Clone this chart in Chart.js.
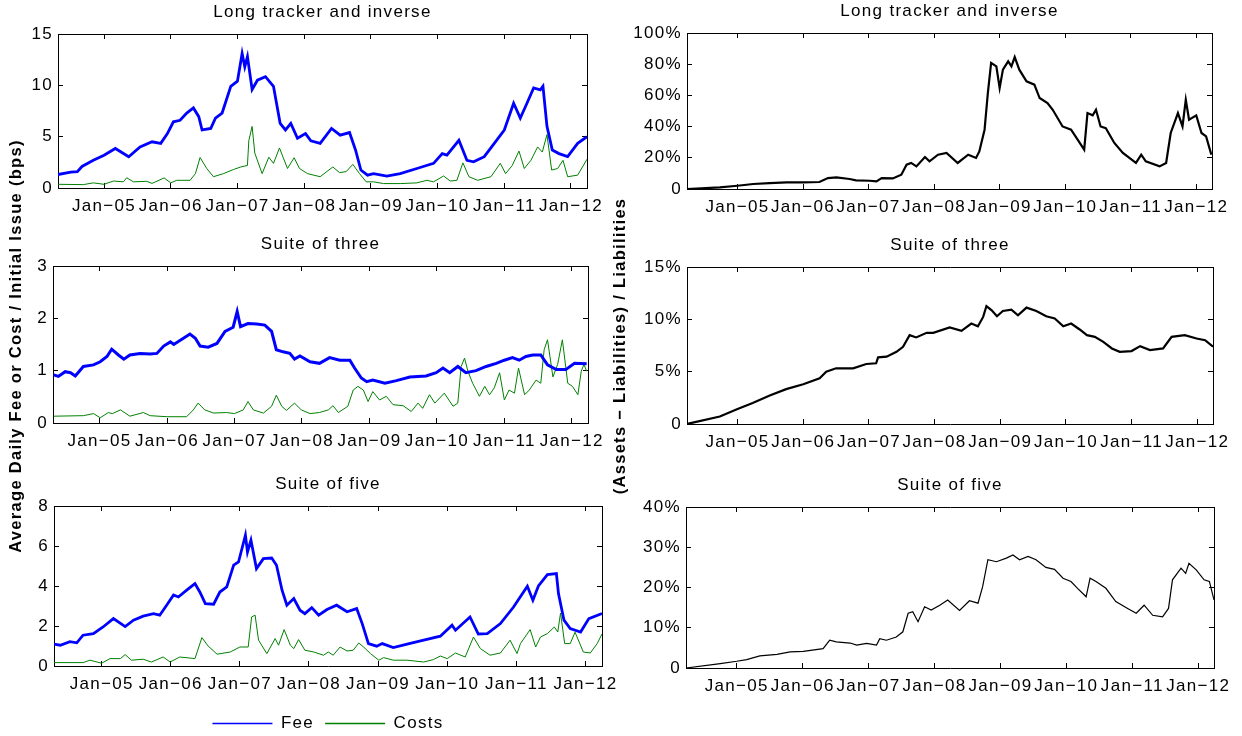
<!DOCTYPE html>
<html>
<head>
<meta charset="utf-8">
<title>Fees, costs and surplus</title>
<script src="https://cdn.jsdelivr.net/npm/chart.js@4.4.1/dist/chart.umd.min.js"></script>
<style>
  html, body { margin: 0; padding: 0; background: #ffffff; }
  #fig { position: relative; width: 1242px; height: 736px; overflow: hidden; background: #ffffff; }
  #fig canvas { position: absolute; left: 0; top: 0; width: 1242px; height: 736px; }
</style>
</head>
<body>
<div id="fig">
  <canvas id="longFeePanel" width="1242" height="736"></canvas>
  <canvas id="threeFeePanel" width="1242" height="736"></canvas>
  <canvas id="fiveFeePanel" width="1242" height="736"></canvas>
  <canvas id="longSurplusPanel" width="1242" height="736"></canvas>
  <canvas id="threeSurplusPanel" width="1242" height="736"></canvas>
  <canvas id="fiveSurplusPanel" width="1242" height="736"></canvas>
</div>
<script>
// ---- x axis: decimal years, labelled at each January ----
const xTickYears  = [2005, 2006, 2007, 2008, 2009, 2010, 2011, 2012];
const xTickLabels = ['Jan\u221205', 'Jan\u221206', 'Jan\u221207', 'Jan\u221208', 'Jan\u221209', 'Jan\u221210', 'Jan\u221211', 'Jan\u221212'];

// ---- y axis ticks ----
const longFeeTicks  = [0, 5, 10, 15];
const threeFeeTicks = [0, 1, 2, 3];
const fiveFeeTicks  = [0, 2, 4, 6, 8];
const longSurplusTicks  = [0, 20, 40, 60, 80, 100];
const longSurplusLabels = ['0', '20%', '40%', '60%', '80%', '100%'];
const threeSurplusTicks  = [0, 5, 10, 15];
const threeSurplusLabels = ['0', '5%', '10%', '15%'];
const fiveSurplusTicks  = [0, 10, 20, 30, 40];
const fiveSurplusLabels = ['0', '10%', '20%', '30%', '40%'];

// ---- Long tracker and inverse: average daily fee / cost (bps), [decimal year, value] ----
const longFee = [[2004.31,1.31],[2004.5,1.55],[2004.6,1.6],[2004.67,2.1],[2004.84,2.7],[2005.0,3.2],[2005.17,3.85],[2005.37,3.05],[2005.54,4.0],[2005.72,4.5],[2005.85,4.35],[2005.95,5.3],[2006.04,6.45],[2006.14,6.6],[2006.24,7.3],[2006.34,7.8],[2006.42,6.95],[2006.47,5.65],[2006.6,5.8],[2006.67,6.8],[2006.77,7.3],[2006.9,9.9],[2007.0,10.4],[2007.07,13.1],[2007.11,11.8],[2007.15,12.8],[2007.22,9.6],[2007.3,10.5],[2007.42,10.85],[2007.54,9.9],[2007.64,6.3],[2007.72,5.65],[2007.8,6.3],[2007.9,4.85],[2008.02,5.3],[2008.1,4.6],[2008.24,4.35],[2008.41,5.8],[2008.54,5.15],[2008.68,5.4],[2008.77,3.7],[2008.85,1.75],[2008.95,1.25],[2009.04,1.4],[2009.24,1.15],[2009.44,1.4],[2009.69,1.9],[2009.94,2.4],[2010.07,3.35],[2010.14,3.2],[2010.32,4.65],[2010.44,2.7],[2010.54,2.55],[2010.7,3.05],[2010.85,4.35],[2011.0,5.65],[2011.14,8.25],[2011.24,6.8],[2011.34,8.25],[2011.44,9.75],[2011.54,9.55],[2011.58,9.9],[2011.64,6.0],[2011.72,3.7],[2011.82,3.35],[2011.95,3.05],[2012.1,4.35],[2012.24,5.0]];
const longCost = [[2004.31,0.36],[2004.69,0.33],[2004.84,0.5],[2005.0,0.36],[2005.14,0.68],[2005.29,0.6],[2005.34,1.0],[2005.44,0.6],[2005.64,0.65],[2005.72,0.45],[2005.9,0.98],[2006.0,0.5],[2006.09,0.75],[2006.29,0.75],[2006.37,1.4],[2006.44,2.97],[2006.54,1.9],[2006.64,1.1],[2006.79,1.4],[2006.94,1.8],[2007.05,2.05],[2007.15,2.2],[2007.17,4.6],[2007.22,6.0],[2007.26,3.4],[2007.37,1.4],[2007.47,3.0],[2007.54,2.4],[2007.63,3.9],[2007.75,1.9],[2007.85,2.95],[2007.93,1.9],[2008.05,1.4],[2008.24,1.1],[2008.43,2.05],[2008.53,1.5],[2008.63,1.6],[2008.73,2.3],[2008.83,1.4],[2008.93,0.6],[2009.04,0.6],[2009.19,0.43],[2009.44,0.43],[2009.69,0.5],[2009.84,0.75],[2009.94,0.6],[2010.09,1.17],[2010.19,0.68],[2010.29,0.75],[2010.38,2.45],[2010.47,1.1],[2010.6,0.75],[2010.8,1.1],[2010.94,2.4],[2011.02,1.4],[2011.12,2.2],[2011.22,3.6],[2011.3,1.9],[2011.4,2.7],[2011.5,4.0],[2011.57,3.5],[2011.64,5.2],[2011.71,1.75],[2011.8,1.9],[2011.88,2.7],[2011.95,1.1],[2012.1,1.25],[2012.24,2.8]];

// ---- Suite of three ----
const threeFee = [[2004.32,0.92],[2004.39,0.89],[2004.49,0.98],[2004.57,0.96],[2004.64,0.9],[2004.76,1.08],[2004.91,1.11],[2005.01,1.17],[2005.11,1.27],[2005.18,1.41],[2005.28,1.3],[2005.36,1.22],[2005.45,1.3],[2005.6,1.33],[2005.75,1.32],[2005.85,1.33],[2005.95,1.47],[2006.05,1.55],[2006.1,1.5],[2006.22,1.6],[2006.34,1.7],[2006.42,1.62],[2006.49,1.47],[2006.61,1.45],[2006.74,1.52],[2006.86,1.75],[2006.98,1.83],[2007.04,2.13],[2007.09,1.84],[2007.2,1.9],[2007.33,1.89],[2007.45,1.87],[2007.55,1.75],[2007.62,1.4],[2007.72,1.36],[2007.82,1.33],[2007.89,1.22],[2007.97,1.28],[2008.12,1.17],[2008.26,1.14],[2008.41,1.25],[2008.56,1.2],[2008.71,1.2],[2008.78,1.05],[2008.88,0.86],[2008.96,0.79],[2009.05,0.82],[2009.23,0.76],[2009.4,0.81],[2009.6,0.88],[2009.84,0.9],[2009.99,0.96],[2010.09,1.05],[2010.19,0.96],[2010.31,1.08],[2010.43,0.96],[2010.58,1.0],[2010.73,1.08],[2010.88,1.14],[2011.0,1.2],[2011.12,1.25],[2011.22,1.2],[2011.32,1.27],[2011.42,1.3],[2011.54,1.3],[2011.64,1.11],[2011.77,1.02],[2011.91,1.02],[2012.04,1.14],[2012.22,1.13]];
const threeCost = [[2004.32,0.13],[2004.76,0.14],[2004.91,0.18],[2005.01,0.1],[2005.13,0.2],[2005.19,0.18],[2005.31,0.25],[2005.45,0.13],[2005.65,0.2],[2005.75,0.14],[2006.0,0.12],[2006.29,0.12],[2006.39,0.25],[2006.46,0.38],[2006.56,0.25],[2006.69,0.19],[2006.88,0.2],[2007.0,0.18],[2007.13,0.25],[2007.2,0.41],[2007.28,0.25],[2007.43,0.19],[2007.55,0.32],[2007.62,0.53],[2007.7,0.32],[2007.77,0.24],[2007.89,0.38],[2007.99,0.25],[2008.12,0.18],[2008.26,0.2],[2008.39,0.25],[2008.46,0.33],[2008.54,0.2],[2008.68,0.32],[2008.76,0.63],[2008.83,0.7],[2008.91,0.63],[2008.98,0.41],[2009.05,0.6],[2009.15,0.44],[2009.25,0.51],[2009.35,0.35],[2009.5,0.33],[2009.62,0.22],[2009.72,0.38],[2009.79,0.28],[2009.89,0.54],[2009.97,0.38],[2010.11,0.57],[2010.24,0.32],[2010.31,0.38],[2010.36,1.08],[2010.41,1.24],[2010.46,0.99],[2010.53,0.76],[2010.63,0.51],[2010.71,0.7],[2010.78,0.54],[2010.85,0.67],[2010.93,0.96],[2011.0,0.44],[2011.07,0.63],[2011.15,0.57],[2011.21,1.05],[2011.3,0.54],[2011.37,0.63],[2011.47,0.82],[2011.54,0.76],[2011.59,1.4],[2011.64,1.59],[2011.72,0.88],[2011.79,1.12],[2011.86,1.59],[2011.94,0.76],[2012.01,0.7],[2012.09,0.54],[2012.14,0.99],[2012.18,1.12],[2012.22,0.99]];

// ---- Suite of five ----
const fiveFee = [[2004.31,1.09],[2004.4,1.04],[2004.54,1.22],[2004.64,1.16],[2004.73,1.54],[2004.88,1.62],[2005.02,1.95],[2005.17,2.37],[2005.34,1.97],[2005.46,2.29],[2005.6,2.49],[2005.75,2.62],[2005.84,2.54],[2005.94,3.04],[2006.04,3.55],[2006.11,3.45],[2006.23,3.79],[2006.35,4.12],[2006.42,3.7],[2006.5,3.12],[2006.62,3.09],[2006.71,3.7],[2006.81,3.95],[2006.91,5.04],[2006.98,5.2],[2007.08,6.54],[2007.11,5.7],[2007.16,6.29],[2007.24,4.87],[2007.34,5.37],[2007.46,5.4],[2007.53,5.04],[2007.61,3.79],[2007.68,3.04],[2007.78,3.37],[2007.87,2.79],[2007.94,2.62],[2008.04,2.92],[2008.14,2.54],[2008.26,2.82],[2008.4,3.04],[2008.55,2.71],[2008.69,2.87],[2008.77,2.12],[2008.86,1.12],[2008.98,0.99],[2009.06,1.12],[2009.22,0.92],[2009.42,1.09],[2009.66,1.29],[2009.9,1.49],[2010.07,2.04],[2010.12,1.79],[2010.33,2.45],[2010.45,1.6],[2010.58,1.62],[2010.77,2.12],[2010.96,2.95],[2011.16,3.99],[2011.24,3.29],[2011.32,4.0],[2011.45,4.57],[2011.58,4.62],[2011.61,3.62],[2011.69,2.29],[2011.78,1.87],[2011.93,1.7],[2012.05,2.37],[2012.24,2.62]];
const fiveCost = [[2004.31,0.17],[2004.73,0.17],[2004.83,0.29],[2005.0,0.14],[2005.12,0.37],[2005.27,0.37],[2005.34,0.57],[2005.43,0.29],[2005.6,0.34],[2005.72,0.2],[2005.89,0.45],[2005.99,0.2],[2006.13,0.45],[2006.35,0.37],[2006.45,1.42],[2006.54,1.0],[2006.67,0.59],[2006.86,0.7],[2007.0,0.95],[2007.12,0.95],[2007.17,2.45],[2007.22,2.54],[2007.27,1.29],[2007.39,0.62],[2007.51,1.37],[2007.56,1.04],[2007.64,1.82],[2007.73,1.04],[2007.78,0.87],[2007.85,1.32],[2007.94,0.79],[2008.07,0.7],[2008.21,0.54],[2008.28,0.7],[2008.35,0.54],[2008.45,0.95],[2008.55,0.75],[2008.64,0.79],[2008.72,1.15],[2008.79,0.95],[2008.89,0.62],[2009.01,0.29],[2009.08,0.42],[2009.22,0.29],[2009.42,0.29],[2009.66,0.2],[2009.8,0.32],[2009.9,0.5],[2010.0,0.37],[2010.12,0.65],[2010.26,0.45],[2010.38,1.45],[2010.48,0.87],[2010.62,0.54],[2010.77,0.65],[2010.91,1.29],[2011.01,0.62],[2011.06,1.12],[2011.2,1.82],[2011.28,0.95],[2011.35,1.45],[2011.45,1.62],[2011.55,1.95],[2011.6,1.7],[2011.64,2.65],[2011.7,1.12],[2011.78,1.12],[2011.85,1.69],[2011.97,0.7],[2012.07,0.65],[2012.17,1.12],[2012.24,1.6]];

// ---- (Assets - Liabilities) / Liabilities, in percent ----
const longSurplus = [[2004.23,0],[2004.73,1.0],[2005.0,2.1],[2005.24,3.2],[2005.49,3.8],[2005.75,4.3],[2006.0,4.3],[2006.25,4.5],[2006.38,7.0],[2006.51,7.4],[2006.71,6.4],[2006.81,5.5],[2007.02,5.3],[2007.12,4.9],[2007.2,7.0],[2007.37,6.8],[2007.5,9.2],[2007.58,15.6],[2007.65,16.7],[2007.73,14.5],[2007.86,20.5],[2007.93,17.7],[2008.06,22.0],[2008.19,23.1],[2008.36,16.7],[2008.52,22.0],[2008.64,19.9],[2008.69,24.1],[2008.77,38],[2008.82,61.5],[2008.87,80.8],[2008.95,78.6],[2009.0,64.7],[2009.05,76.5],[2009.13,81.8],[2009.18,78.6],[2009.23,84.6],[2009.3,76.5],[2009.41,69],[2009.53,66.9],[2009.61,58.3],[2009.73,55.1],[2009.81,50.8],[2009.96,40.1],[2010.09,38],[2010.19,31.6],[2010.29,25.2],[2010.34,48.7],[2010.42,47.2],[2010.47,50.8],[2010.54,40.1],[2010.62,39],[2010.75,29.5],[2010.88,23.1],[2011.08,16.7],[2011.16,22],[2011.23,17.7],[2011.44,14.5],[2011.54,16.7],[2011.61,35.9],[2011.72,48.7],[2011.79,40.1],[2011.84,57.2],[2011.89,44.4],[2012.0,47.2],[2012.08,35.9],[2012.15,33.7],[2012.23,22]];
const threeSurplus = [[2004.23,0],[2004.73,0.72],[2005.0,1.43],[2005.23,2.0],[2005.49,2.72],[2005.74,3.33],[2006.0,3.8],[2006.25,4.37],[2006.35,5.0],[2006.5,5.32],[2006.76,5.32],[2006.96,5.73],[2007.11,5.8],[2007.14,6.37],[2007.27,6.43],[2007.42,6.9],[2007.52,7.38],[2007.62,8.49],[2007.72,8.27],[2007.88,8.71],[2007.98,8.71],[2008.23,9.22],[2008.41,8.9],[2008.56,9.6],[2008.66,9.34],[2008.74,10.23],[2008.79,11.27],[2008.87,10.86],[2008.95,10.29],[2009.04,10.8],[2009.17,10.93],[2009.27,10.39],[2009.4,11.12],[2009.55,10.8],[2009.7,10.29],[2009.83,10.08],[2009.96,9.34],[2010.08,9.6],[2010.21,9.03],[2010.32,8.49],[2010.44,8.33],[2010.57,7.85],[2010.7,7.22],[2010.82,6.9],[2011.0,6.97],[2011.13,7.44],[2011.28,7.06],[2011.48,7.22],[2011.61,8.33],[2011.81,8.49],[2011.99,8.17],[2012.12,8.0],[2012.24,7.38]];
const fiveSurplus = [[2004.23,0],[2004.75,1.1],[2005.0,1.67],[2005.15,2.1],[2005.35,3.0],[2005.61,3.4],[2005.81,4.0],[2006.01,4.15],[2006.31,4.8],[2006.41,6.9],[2006.51,6.5],[2006.72,6.2],[2006.82,5.7],[2006.97,6.1],[2007.12,5.7],[2007.17,7.3],[2007.27,6.9],[2007.42,7.7],[2007.52,9.0],[2007.6,13.6],[2007.67,14.0],[2007.75,11.5],[2007.85,15.2],[2007.95,14.4],[2008.08,15.6],[2008.2,16.9],[2008.38,14.3],[2008.53,16.7],[2008.66,16.1],[2008.73,20.2],[2008.81,26.9],[2008.94,26.4],[2009.09,27.3],[2009.19,28.1],[2009.29,26.9],[2009.42,27.7],[2009.54,26.9],[2009.69,25.0],[2009.82,24.5],[2009.95,22.3],[2010.07,21.5],[2010.17,19.8],[2010.3,17.7],[2010.36,22.3],[2010.45,21.5],[2010.6,19.8],[2010.75,16.5],[2010.93,14.8],[2011.06,13.6],[2011.18,15.6],[2011.31,13.1],[2011.46,12.7],[2011.55,14.8],[2011.61,21.9],[2011.74,24.8],[2011.81,23.5],[2011.86,26.0],[2011.97,24.4],[2012.09,21.9],[2012.17,21.5],[2012.24,16.9]];

// ---- drawing ----
const W = 1242, H = 736;
const FONT = "'Liberation Sans', Arial, Helvetica, sans-serif";
const TRACKING = '1.3px';
const FEE_BLUE = '#0000ff', COST_GREEN = '#008000', INK = '#000000';

// slightly wider text setting, applied before measuring and drawing
const tracking = {
  id: 'tracking',
  beforeLayout(chart) { chart.ctx.letterSpacing = TRACKING; },
  beforeDraw(chart) { chart.ctx.letterSpacing = TRACKING; }
};

const toPoints = pairs => pairs.map(([x, y]) => ({ x, y }));

function fixedSize(size, horizontal) {
  return scale => {
    if (horizontal) scale.height = size; else scale.width = size;
    scale.paddingLeft = scale.paddingRight = scale.paddingTop = scale.paddingBottom = 0;
  };
}
const tickValues = values => scale => { scale.ticks = values.map(v => ({ value: v })); };

// legend entries drawn as thin line samples in each series colour
function lineLegendItems(chart) {
  return chart.data.datasets.map((ds, i) => ({
    text: ds.label,
    datasetIndex: i,
    fillStyle: ds.borderColor,
    strokeStyle: ds.borderColor,
    fontColor: INK,
    lineWidth: 1.4,
    hidden: false
  }));
}

function panel(id, cfg) {
  const area = cfg.area;                       // plot box in page pixels
  const padLeft = cfg.padLeft || 0;
  const padBottom = cfg.padBottom || 0;
  const sideWidth = cfg.side ? 26 : 0;
  const legendHeight = cfg.legend ? 17 + 11 + 10 : 0;
  const tickFont = { family: FONT, size: 17 };
  const frame = { display: true, color: INK, width: 1 };
  const inwardTicks = { display: true, drawOnChartArea: false, drawTicks: true, tickLength: -5, color: INK, lineWidth: 1 };
  const yt = cfg.yTicks, yl = cfg.yLabels || cfg.yTicks.map(String);

  const xCommon = { type: 'linear', min: cfg.xMin, max: 2012.24, border: frame, grid: inwardTicks, afterBuildTicks: tickValues(xTickYears) };
  const yCommon = { type: 'linear', min: yt[0], max: yt[yt.length - 1], border: frame, grid: inwardTicks, afterBuildTicks: tickValues(yt) };

  return new Chart(document.getElementById(id), {
    type: 'line',
    data: {
      datasets: cfg.series.map(s => ({
        label: s.label,
        data: toPoints(s.data),
        borderColor: s.color,
        backgroundColor: s.color,
        borderWidth: s.width,
        pointRadius: 0,
        tension: 0,
        fill: false,
        xAxisID: 'x',
        yAxisID: 'y'
      }))
    },
    plugins: [tracking],
    options: {
      responsive: false,
      animation: false,
      devicePixelRatio: 1,
      events: [],
      layout: { padding: { left: padLeft, right: W - area.r, top: 0, bottom: padBottom } },
      scales: {
        x: Object.assign({}, xCommon, {
          position: 'bottom',
          ticks: { font: tickFont, color: INK, padding: 13, maxRotation: 0, autoSkip: false,
                   callback: v => xTickLabels[xTickYears.indexOf(v)] },
          afterFit: fixedSize(H - padBottom - legendHeight - area.b, true)
        }),
        xTop: Object.assign({}, xCommon, { position: 'top', ticks: { display: false }, afterFit: fixedSize(0, true) }),
        y: Object.assign({}, yCommon, {
          position: 'left',
          ticks: { font: tickFont, color: INK, padding: 10, autoSkip: false,
                   callback: v => yl[yt.indexOf(v)] },
          afterFit: fixedSize(area.l - padLeft - sideWidth, false)
        }),
        yRight: Object.assign({}, yCommon, { position: 'right', ticks: { display: false }, afterFit: fixedSize(0, false) })
      },
      plugins: {
        title: {
          display: true, text: cfg.title, position: 'top', fullSize: false, color: INK,
          font: { family: FONT, size: 17, weight: 'normal', lineHeight: '20px' },
          padding: { top: area.t - 32, bottom: 12 }
        },
        subtitle: cfg.side ? {
          display: true, text: cfg.side, position: 'left', fullSize: true, color: INK,
          font: { family: FONT, size: 16.5, weight: 'bold', lineHeight: '20px' },
          padding: { top: 6, bottom: 0 }
        } : { display: false },
        legend: cfg.legend ? {
          display: true, position: 'bottom', fullSize: false,
          labels: {
            usePointStyle: false, boxWidth: 60, boxHeight: 0, padding: 11,
            color: INK, font: { family: FONT, size: 17 },
            generateLabels: lineLegendItems
          }
        } : { display: false },
        tooltip: { enabled: false }
      }
    }
  });
}

const LEFT_START = 2004.31, RIGHT_START = 2004.23;

panel('longFeePanel', {
  area: { l: 58, t: 34, r: 587, b: 188 }, xMin: LEFT_START,
  title: 'Long tracker and inverse', yTicks: longFeeTicks,
  series: [
    { label: 'Fee', data: longFee, color: FEE_BLUE, width: 2.8 },
    { label: 'Costs', data: longCost, color: COST_GREEN, width: 1 }
  ]
});
panel('threeFeePanel', {
  area: { l: 53, t: 266, r: 588, b: 423 }, xMin: LEFT_START, padBottom: 44,
  side: 'Average Daily Fee or Cost / Initial Issue (bps)',
  title: 'Suite of three', yTicks: threeFeeTicks,
  series: [
    { label: 'Fee', data: threeFee, color: FEE_BLUE, width: 3 },
    { label: 'Costs', data: threeCost, color: COST_GREEN, width: 1 }
  ]
});
panel('fiveFeePanel', {
  area: { l: 54, t: 506, r: 602, b: 666 }, xMin: LEFT_START, padBottom: -6, legend: true,
  title: 'Suite of five', yTicks: fiveFeeTicks,
  series: [
    { label: 'Fee', data: fiveFee, color: FEE_BLUE, width: 2.8 },
    { label: 'Costs', data: fiveCost, color: COST_GREEN, width: 1 }
  ]
});
panel('longSurplusPanel', {
  area: { l: 687, t: 33, r: 1212, b: 189 }, xMin: RIGHT_START, padLeft: 615,
  title: 'Long tracker and inverse', yTicks: longSurplusTicks, yLabels: longSurplusLabels,
  series: [ { label: 'Surplus', data: longSurplus, color: INK, width: 2.2 } ]
});
panel('threeSurplusPanel', {
  area: { l: 687, t: 267, r: 1213, b: 424 }, xMin: RIGHT_START, padLeft: 604, padBottom: 44,
  side: '(Assets \u2212 Liabilities) / Liabilities',
  title: 'Suite of three', yTicks: threeSurplusTicks, yLabels: threeSurplusLabels,
  series: [ { label: 'Surplus', data: threeSurplus, color: INK, width: 2.2 } ]
});
panel('fiveSurplusPanel', {
  area: { l: 686, t: 507, r: 1214, b: 668 }, xMin: RIGHT_START, padLeft: 615,
  title: 'Suite of five', yTicks: fiveSurplusTicks, yLabels: fiveSurplusLabels,
  series: [ { label: 'Surplus', data: fiveSurplus, color: INK, width: 1.2 } ]
});
</script>
</body>
</html>
